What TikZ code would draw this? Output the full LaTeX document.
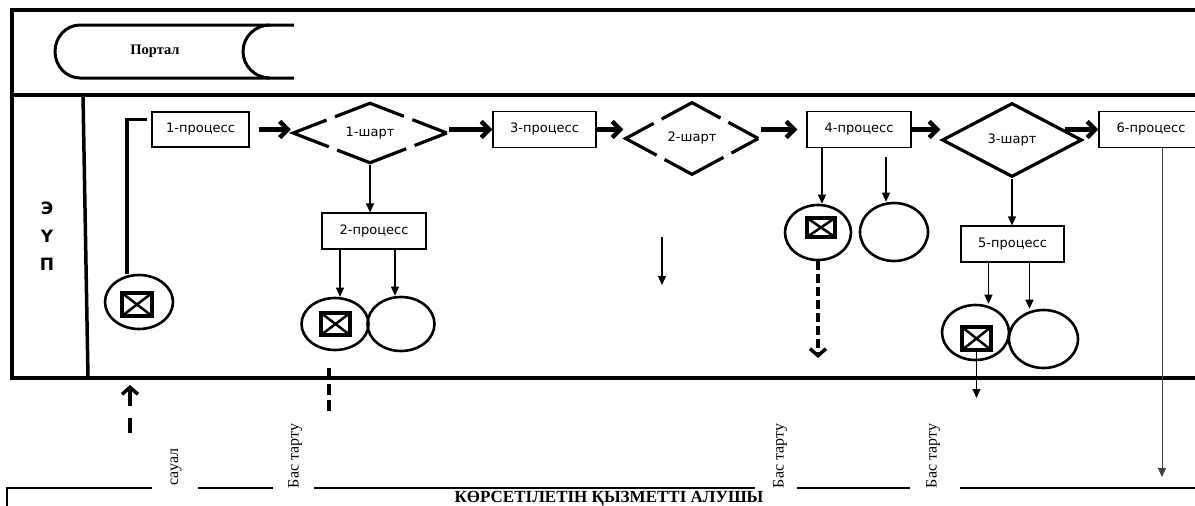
\documentclass[tikz,border=0pt]{standalone}
\usepackage{fontspec}
\setmainfont{Liberation Serif}
\newfontfamily\boxfont{DejaVu Sans}
\usetikzlibrary{shapes.geometric,arrows.meta,calc}

\begin{document}
\begin{tikzpicture}[x=1pt,y=-1pt,
    proc/.style={draw,line width=1.2pt,minimum width=104pt,minimum height=36pt,inner sep=0pt,font=\boxfont\fontsize{13}{15}\selectfont},
    cond/.style={draw,diamond,line width=3.2pt,inner sep=0pt,font=\boxfont\fontsize{13}{15}\selectfont},
    oval/.style={draw,ellipse,line width=2.6pt,inner sep=0pt},
    xbox/.style={draw,line width=3.5pt,inner sep=0pt,path picture={
        \draw[line width=2.5pt] (path picture bounding box.north west) -- (path picture bounding box.south east)
            (path picture bounding box.north east) -- (path picture bounding box.south west);}},
    flow/.style={line width=4.5pt,-{Straight Barb[length=8pt,width=16pt]}},
    dflow/.style={line width=3.5pt,-{Straight Barb[length=7pt,width=16pt]}},
    down/.style={line width=1.2pt,-{Triangle[length=9pt,width=8pt]}},
    frame/.style={line width=3.5pt},
    vlabel/.style={rotate=90,font=\fontsize{16}{18}\selectfont}]
    \useasboundingbox (0,0) rectangle (1195,506);
    \clip (0,0) rectangle (1195,506);
    % lanes
    \draw[frame] (1200,10) -- (12,10) -- (12,378) -- (1200,378);
    \draw[frame] (12,95) -- (1200,95);
    \draw[frame] (83,95) -- (88,378);
    \node[font=\boxfont\bfseries\fontsize{17}{28}\selectfont,align=center] (lane) at (47,236) {Э\\Ү\\П};
    % portal
    \draw[line width=3pt] (294,25) -- (80,25) .. controls (66.2,25) and (55,36.9) .. (55,51.5)
        .. controls (55,66.1) and (66.2,78) .. (80,78) -- (294,78);
    \draw[line width=3pt] (270,25) .. controls (255.1,25) and (243,36.9) .. (243,51.5)
        .. controls (243,66.1) and (255.1,78) .. (270,78);
    \node[font=\bfseries\fontsize{14.5}{17}\selectfont] (portal) at (155,51) {Портал};
    % steps
    \node[proc,minimum width=97pt,minimum height=35pt] (p1) at (200.5,129.5) {1-процесс};
    \node[cond,minimum width=155pt,minimum height=60pt,dash pattern=on 74pt off 9pt,dash phase=37pt] (s1) at (370,133) {1-шарт};
    \node[proc,minimum width=103pt] (p3) at (544.5,129.5) {3-процесс};
    \node[cond,minimum width=134pt,minimum height=73pt,dash pattern=on 67pt off 9pt,dash phase=33pt] (s2) at (692,138.5) {2-шарт};
    \node[proc] (p4) at (859,129.5) {4-процесс};
    \node[cond,minimum width=140pt,minimum height=74pt] (s3) at (1012,140) {3-шарт};
    \node[proc] (p6) at (1151,129.5) {6-процесс};
    \node[proc] (p2) at (374,231) {2-процесс};
    \node[proc,minimum width=103pt] (p5) at (1012.5,244) {5-процесс};
    % ends
    \node[oval,minimum width=68pt,minimum height=54pt] (e0) at (139,302) {};
    \node[xbox,minimum width=30pt,minimum height=23pt] (x0) at (137,304.5) {};
    \node[oval,minimum width=67pt,minimum height=52pt] (e21) at (335,324) {};
    \node[xbox,minimum width=29pt,minimum height=22pt] (x21) at (335.5,324) {};
    \node[oval,minimum width=67pt,minimum height=54pt] (e22) at (401,324) {};
    \node[oval,minimum width=66pt,minimum height=55pt] (e41) at (818,232.5) {};
    \node[xbox,minimum width=28pt,minimum height=19pt] (x41) at (821,227.5) {};
    \node[oval,minimum width=68pt,minimum height=58pt] (e42) at (894,232) {};
    \node[oval,minimum width=67pt,minimum height=55pt] (e51) at (975.5,332.5) {};
    \node[xbox,minimum width=29pt,minimum height=23pt] (x51) at (976.5,338.5) {};
    \node[oval,minimum width=69pt,minimum height=58pt] (e52) at (1043.5,339) {};
    % main flow
    \draw[line width=3.5pt] ($(e0.north)+(-12,0)$) |- ($(p1.west)+(-4,-10)$);
    \draw[flow,shorten <=9pt] (p1.east) -- (p1.east -| s1.west);
    \draw[flow] (s1.east |- p3.west) -- (p3.west);
    \draw[flow] (p3.east) -- (p3.east -| s2.west);
    \draw[flow,shorten >=9pt] (s2.east |- p4.west) -- (p4.west);
    \draw[flow] (p4.east) -- (p4.east -| s3.west);
    \draw[flow] ($(s3.east |- p6.west)+(-19,0)$) -- (p6.west);
    % down
    \draw[down] (s1.south) -- (s1.south |- p2.north);
    \draw[down] ($(e21.north |- p2.south)+(5,0)$) -- ($(e21.north)+(5,0)$);
    \draw[down] ($(e22.north |- p2.south)+(-6,0)$) -- ($(e22.north)+(-6,0)$);
    \draw[down] ($(e41.north |- p4.south)+(4,0)$) -- ($(e41.north)+(4,0)$);
    \draw[down] ($(e42.north |- p4.south)+(-8,9)$) -- ($(e42.north)+(-8,0)$);
    \draw[down] (s3.south) -- (s3.south |- p5.north);
    \draw[down] ($(e51.north |- p5.south)+(13,0)$) -- ($(e51.north)+(13,0)$);
    \draw[down] ($(e52.north |- p5.south)+(-14,0)$) -- ($(e52.north)+(-14,0)$);
    \coordinate (a2) at (662,237);
    \coordinate (b2) at (662,285);
    \draw[down] (a2) -- (b2);
    \coordinate (r4) at (819,358);
    \draw[dflow,dash pattern=on 9pt off 4pt] (e41.south) -- (e41.south |- r4);
    \coordinate (r5) at (975,398);
    \draw[down] (x51.south) -- (x51.south |- r5);
    \coordinate (c6) at ($(p6.south)+(11,0)$);
    \coordinate (r6) at (1162,477);
    \draw[down,line width=0.9pt,black!75] (c6) -- (c6 |- r6);
    % receiver
    \coordinate (q0) at (130,433);
    \coordinate (q1) at (130,385);
    \draw[dflow,dash pattern=on 15pt off 12pt on 30pt] (q0) -- (q1);
    \coordinate (t0) at (329,368);
    \coordinate (t1) at (329,412);
    \draw[line width=3.5pt,dash pattern=on 11pt off 5pt] (t0) -- (t1);
    \draw[line width=1.2pt] (7,506) -- (7,488) -- (152,488) (198,488) -- (273,488)
        (314,488) -- (755,488) (797,488) -- (910,488) (960,488) -- (1200,488);
    \node[vlabel] (ask) at (176,467) {сауал};
    \node[vlabel] (no1) at (295,456) {Бас тарту};
    \node[vlabel] (no2) at (780,456) {Бас тарту};
    \node[vlabel] (no3) at (933,456) {Бас тарту};
    \node[font=\bfseries\fontsize{17}{19}\selectfont] (recv) at (609,498.5) {КӨРСЕТІЛЕТІН ҚЫЗМЕТТІ АЛУШЫ};
\end{tikzpicture}
\end{document}
